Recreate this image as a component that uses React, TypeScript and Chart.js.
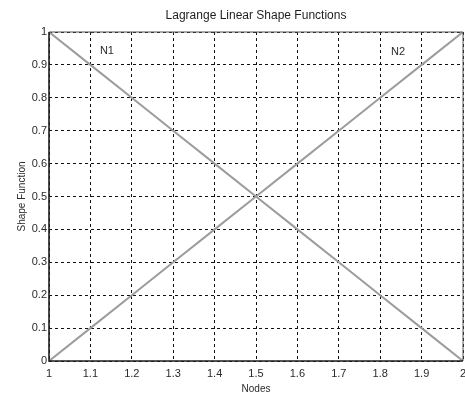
import React, { useEffect, useRef } from "react";
import { Chart, registerables } from "chart.js";

Chart.register(...registerables);

const chartTitle = "Lagrange Linear Shape Functions";
const xTitle = "Nodes";
const yTitle = "Shape Function";

const nodes = [1, 1.1, 1.2, 1.3, 1.4, 1.5, 1.6, 1.7, 1.8, 1.9, 2];
const n1Values = [1, 0.9, 0.8, 0.7, 0.6, 0.5, 0.4, 0.3, 0.2, 0.1, 0];
const n2Values = [0, 0.1, 0.2, 0.3, 0.4, 0.5, 0.6, 0.7, 0.8, 0.9, 1];

const xTickValues = [1, 1.1, 1.2, 1.3, 1.4, 1.5, 1.6, 1.7, 1.8, 1.9, 2];
const xTickLabels = ["1", "1.1", "1.2", "1.3", "1.4", "1.5", "1.6", "1.7", "1.8", "1.9", "2"];
const yTickValues = [0, 0.1, 0.2, 0.3, 0.4, 0.5, 0.6, 0.7, 0.8, 0.9, 1];
const yTickLabels = ["0", "0.1", "0.2", "0.3", "0.4", "0.5", "0.6", "0.7", "0.8", "0.9", "1"];

const seriesNames = ["N1", "N2"];
const seriesLabelX = [1.14, 1.843];
const seriesLabelY = [0.942, 0.94];

const FONT = "'Liberation Sans', Arial, sans-serif";

const framePlugin = {
  id: "frame",
  afterDraw(chart: any) {
    const { ctx, chartArea } = chart;
    const { left, right, top, bottom } = chartArea;
    ctx.save();
    ctx.setLineDash([]);
    ctx.strokeStyle = "#555";
    ctx.lineWidth = 1;
    ctx.beginPath();
    ctx.moveTo(left, top);
    ctx.lineTo(right, top);
    ctx.lineTo(right, bottom);
    ctx.stroke();
    ctx.strokeStyle = "#1e1e1e";
    ctx.lineWidth = 1.6;
    ctx.beginPath();
    ctx.moveTo(left, top);
    ctx.lineTo(left, bottom);
    ctx.lineTo(right, bottom);
    ctx.stroke();
    ctx.restore();
  },
};

const seriesLabelPlugin = {
  id: "seriesLabels",
  afterDatasetsDraw(chart: any) {
    const { ctx, scales } = chart;
    ctx.save();
    ctx.font = `11px ${FONT}`;
    ctx.fillStyle = "#2a2a2a";
    ctx.textAlign = "center";
    ctx.textBaseline = "middle";
    seriesNames.forEach((name, i) => {
      const x = scales.x.getPixelForValue(seriesLabelX[i]);
      const y = scales.y.getPixelForValue(seriesLabelY[i]);
      ctx.fillText(name, x, y);
    });
    ctx.restore();
  },
};

export default function App() {
  const canvasRef = useRef<HTMLCanvasElement | null>(null);

  useEffect(() => {
    if (!canvasRef.current) return;
    const chart = new Chart(canvasRef.current, {
      type: "line",
      data: {
        datasets: [
          {
            label: seriesNames[0],
            data: nodes.map((x, i) => ({ x, y: n1Values[i] })),
            borderColor: "#9c9c9c",
            borderWidth: 2,
            pointRadius: 0,
            fill: false,
            tension: 0,
          },
          {
            label: seriesNames[1],
            data: nodes.map((x, i) => ({ x, y: n2Values[i] })),
            borderColor: "#9c9c9c",
            borderWidth: 2,
            pointRadius: 0,
            fill: false,
            tension: 0,
          },
        ],
      },
      options: {
        responsive: false,
        animation: false,
        devicePixelRatio: 1,
        layout: { padding: { left: 0, right: 2, top: 0, bottom: 0 } },
        plugins: {
          legend: { display: false },
          tooltip: { enabled: false },
          title: {
            display: true,
            text: chartTitle,
            fullSize: false,
            color: "#1e1e1e",
            font: { family: FONT, size: 12, weight: "normal", lineHeight: 1.2 },
            padding: { top: 8.8, bottom: 8.8 },
          },
        },
        scales: {
          x: {
            type: "linear",
            min: 1,
            max: 2,
            afterBuildTicks: (scale: any) => {
              scale.ticks = xTickValues.map((v) => ({ value: v }));
            },
            afterFit: (scale: any) => {
              scale.height = 33;
              scale.paddingLeft = 0;
              scale.paddingRight = 0;
            },
            ticks: {
              autoSkip: false,
              maxRotation: 0,
              padding: 6,
              color: "#2a2a2a",
              font: { family: FONT, size: 11 },
              callback: (_v: any, i: number) => xTickLabels[i],
            },
            grid: {
              color: "#111",
              lineWidth: 1,
              drawTicks: false,
            },
            border: { display: false, dash: [3, 3] },
            title: {
              display: true,
              text: xTitle,
              color: "#2a2a2a",
              font: { family: FONT, size: 10, lineHeight: 1 },
              padding: { top: 0, bottom: 0 },
            },
          },
          y: {
            type: "linear",
            min: 0,
            max: 1,
            afterBuildTicks: (scale: any) => {
              scale.ticks = yTickValues.map((v) => ({ value: v }));
            },
            afterFit: (scale: any) => {
              scale.width = 49;
              scale.paddingTop = 0;
              scale.paddingBottom = 0;
            },
            ticks: {
              autoSkip: false,
              padding: 2,
              color: "#2a2a2a",
              font: { family: FONT, size: 11 },
              callback: (_v: any, i: number) => yTickLabels[i],
            },
            grid: {
              color: "#111",
              lineWidth: 1,
              drawTicks: false,
            },
            border: { display: false, dash: [3, 3] },
            title: {
              display: true,
              text: yTitle,
              color: "#2a2a2a",
              font: { family: FONT, size: 10, lineHeight: 1.2 },
              padding: { top: 16, bottom: 0 },
            },
          },
        },
      },
      plugins: [framePlugin, seriesLabelPlugin],
    } as any);
    return () => chart.destroy();
  }, []);

  return (
    <div style={{ position: "absolute", left: 0, top: 0, width: 465, height: 394, background: "#fff" }}>
      <canvas ref={canvasRef} width={465} height={394} style={{ display: "block" }} />
    </div>
  );
}
